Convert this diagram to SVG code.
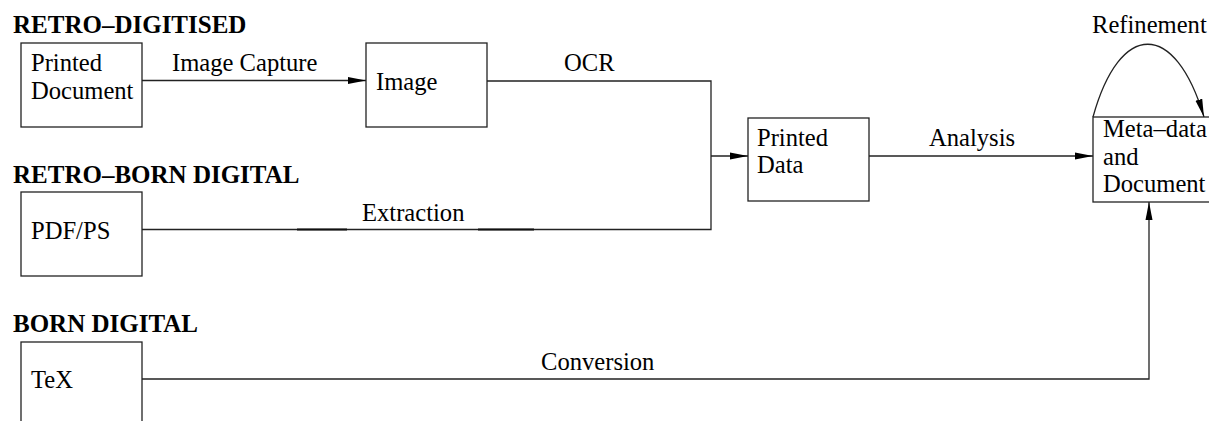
<svg xmlns="http://www.w3.org/2000/svg" width="1209" height="421" viewBox="0 0 1209 421">
<defs>
<marker id="arr" markerUnits="userSpaceOnUse" markerWidth="18" markerHeight="8" refX="18" refY="3.5" orient="auto" viewBox="0 0 18 7">
<path d="M0,0 L18,3.5 L0,7 z" fill="#000"/>
</marker>
<style>
rect.box{fill:#fff;stroke:#222;stroke-width:1.3}
text{font-family:"Liberation Serif","Times New Roman",serif;font-size:24.6px;fill:#000}
text.hd{font-weight:bold;font-size:25px}
.ln{fill:none;stroke:#222;stroke-width:1.3}
.dk{fill:none;stroke:#111;stroke-width:2.2}
</style>
</defs>
<rect width="1209" height="421" fill="#fff"/>
<g id="headings">
<text class="hd" x="13" y="33">RETRO–DIGITISED</text>
<text class="hd" x="13" y="183">RETRO–BORN DIGITAL</text>
<text class="hd" x="13" y="332">BORN DIGITAL</text>
</g>
<g id="connectors">
<path class="ln" d="M142,80.5 H366" marker-end="url(#arr)"/>
<path class="ln" d="M487,81 H711 V229.5 H142"/>
<path class="dk" d="M297,229.5 H347 M478,229.5 H534"/>
<path class="ln" d="M711,156 H748" marker-end="url(#arr)"/>
<path class="ln" d="M869,156 H1093" marker-end="url(#arr)"/>
<path class="ln" d="M142,379 H1149 V202" marker-end="url(#arr)"/>
<path class="ln" d="M1093,117 C1120,20 1175,20 1204,117" marker-end="url(#arr)"/>
<text x="172" y="71">Image Capture</text>
<text x="564" y="71">OCR</text>
<text x="929" y="146">Analysis</text>
<text x="1092" y="33">Refinement</text>
<text x="362" y="221">Extraction</text>
<text x="541" y="370">Conversion</text>
</g>
<g id="printed-document">
<rect class="box" x="21" y="43" width="121" height="84"/>
<text x="31" y="71">Printed</text>
<text x="31" y="99">Document</text>
</g>
<g id="image">
<rect class="box" x="366" y="43" width="121" height="84"/>
<text x="376" y="90">Image</text>
</g>
<g id="printed-data">
<rect class="box" x="748" y="118" width="121" height="83"/>
<text x="757" y="146">Printed</text>
<text x="757" y="173">Data</text>
</g>
<g id="metadata-document">
<rect class="box" x="1093" y="117" width="121" height="85"/>
<text x="1103" y="137">Meta–data</text>
<text x="1103" y="165">and</text>
<text x="1103" y="192">Document</text>
</g>
<g id="pdf-ps">
<rect class="box" x="21" y="192" width="121" height="84"/>
<text x="31" y="239">PDF/PS</text>
</g>
<g id="tex">
<rect class="box" x="21" y="342" width="121" height="84"/>
<text x="31" y="388">TeX</text>
</g>
</svg>
